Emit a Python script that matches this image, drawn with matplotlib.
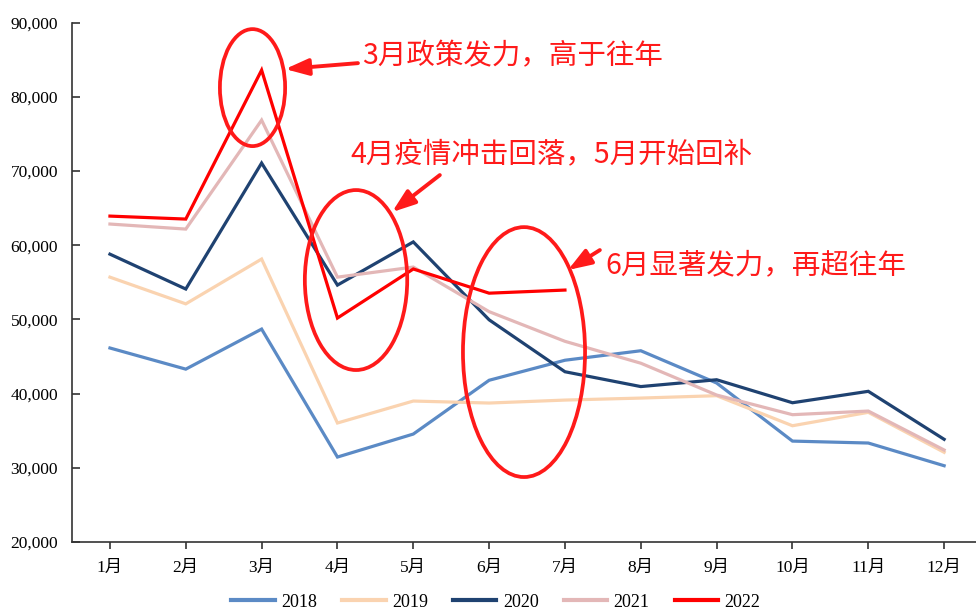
import matplotlib
matplotlib.use("Agg")
import matplotlib.pyplot as plt
from matplotlib.patches import Ellipse
from matplotlib.ticker import FuncFormatter

months = ["1月", "2月", "3月", "4月", "5月", "6月", "7月", "8月", "9月", "10月", "11月", "12月"]
years = ["2018", "2019", "2020", "2021", "2022"]

v2018 = [46150, 43300, 48700, 31450, 34550, 41800, 44500, 45780, 41430, 33600, 33340, 30280]
v2019 = [55700, 52100, 58140, 36040, 39000, 38730, 39130, 39400, 39720, 35670, 37480, 32090]
v2020 = [58800, 54100, 71080, 54630, 60450, 49950, 42950, 40950, 41870, 38770, 40310, 33840]
v2021 = [62860, 62180, 76870, 55700, 57060, 51050, 47050, 44100, 39810, 37160, 37650, 32400]
v2022 = [63930, 63530, 83610, 50190, 56800, 53540, 53960]

colors = ["#5b8ac5", "#fad3b0", "#1f4271", "#e3b7b7", "#ff0000"]

SERIF = ["Liberation Serif", "Noto Sans CJK SC"]
CJK = ["Noto Sans CJK SC", "DejaVu Sans"]
RED = "#ff1a1a"


def callout(ax, text, text_xy, tail, head, ell_xy, ell_w, ell_h):
	""" red ellipse plus arrow and note """
	ax.add_patch(Ellipse(ell_xy, ell_w, ell_h, fill=False, edgecolor=RED, lw=2.7, zorder=5))
	ax.annotate("", xy=head, xytext=tail,
		arrowprops=dict(arrowstyle="-|>,head_length=1.4,head_width=0.5", color=RED, lw=2.8,
			shrinkA=0, shrinkB=0), zorder=6)
	ax.text(text_xy[0], text_xy[1], text, color=RED, family=CJK, fontsize=20.5,
		va="center", ha="left", zorder=6)


fig = plt.figure(figsize=(9.76, 6.12), dpi=100)
ax = fig.add_axes([0.0738, 0.1144, 0.9324, 0.8485])

x = list(range(1, 13))
series = [v2018, v2019, v2020, v2021, v2022]
for vals, name, c in zip(series, years, colors):
	ax.plot(x[:len(vals)], vals, color=c, lw=2.3, label=name, solid_joinstyle="miter")

ax.set_xlim(0.5, 12.5)
ax.set_ylim(20000, 90000)
ax.set_yticks(range(20000, 90001, 10000))
ax.yaxis.set_major_formatter(FuncFormatter(lambda v, p: "{:,.0f}".format(v)))
ax.set_xticks(x)
ax.set_xticklabels(months)

for s in ["top", "right"]:
	ax.spines[s].set_visible(False)
for s in ["left", "bottom"]:
	ax.spines[s].set_color("#333333")
	ax.spines[s].set_linewidth(1.2)
ax.tick_params(axis="y", direction="in", length=6, width=1.2, color="#333333", pad=10)
ax.tick_params(axis="x", direction="out", length=5, width=1.2, color="#333333", pad=8)
for lab in ax.get_xticklabels() + ax.get_yticklabels():
	lab.set_family(SERIF)
	lab.set_fontsize(12.5)

callout(ax, "3月政策发力，高于往年", (4.32, 85500), (4.27, 84550), (3.31, 83750),
	(2.88, 81250), 0.86, 15770)
callout(ax, "4月疫情冲击回落，5月开始回补", (4.17, 72150), (5.35, 69460), (4.72, 64470),
	(4.245, 55310), 1.35, 24260)
callout(ax, "6月显著发力，再超往年", (7.53, 57330), (7.46, 59350), (7.04, 56660),
	(6.46, 45600), 1.61, 33690)

leg = fig.legend(loc="center", bbox_to_anchor=(0.508, 0.016), ncol=5, frameon=False,
	handlelength=2.4, handletextpad=0.35, columnspacing=1.4,
	prop={"family": SERIF, "size": 13})
for line in leg.get_lines():
	line.set_linewidth(3)

fig.savefig("out.png", dpi=100)
